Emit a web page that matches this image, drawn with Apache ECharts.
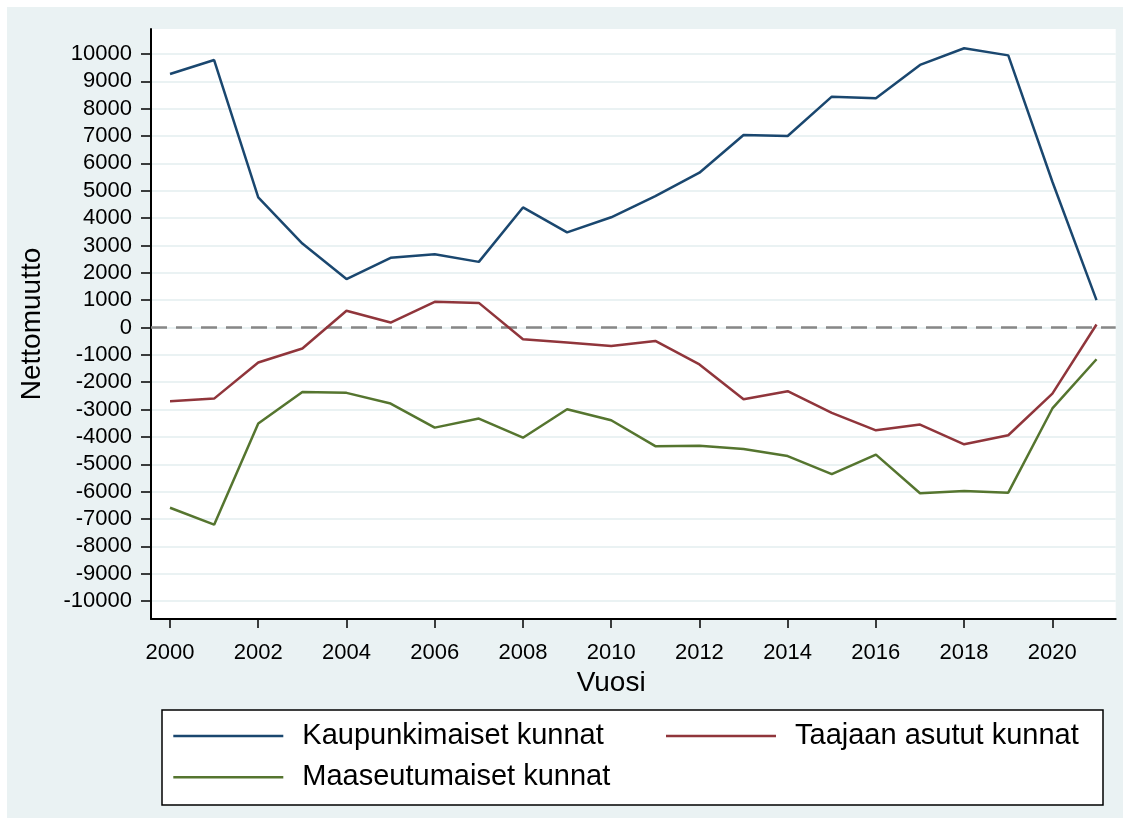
<!DOCTYPE html>
<html>
<head>
<meta charset="utf-8">
<script src="https://cdn.jsdelivr.net/npm/echarts@6/dist/echarts.min.js"></script>
<style>
  html, body { margin: 0; padding: 0; background: #ffffff; width: 1123px; height: 818px; overflow: hidden; }
  #chart { position: absolute; left: 7px; top: 7px; width: 1116px; height: 811px; background: #EAF2F3; }
</style>
</head>
<body>
<div id="chart"></div>
<script>
// ---- data ----
const years = [2000, 2001, 2002, 2003, 2004, 2005, 2006, 2007, 2008, 2009, 2010,
               2011, 2012, 2013, 2014, 2015, 2016, 2017, 2018, 2019, 2020, 2021];
const kaupunkimaiset = [9270, 9780, 4760, 3070, 1770, 2550, 2680, 2400, 4390, 3480, 4030,
                        4800, 5660, 7040, 7000, 8440, 8380, 9600, 10210, 9950, 5330, 1000];
const taajaan = [-2700, -2600, -1280, -770, 610, 180, 940, 900, -430, -550, -680,
                 -490, -1350, -2620, -2330, -3120, -3760, -3550, -4270, -3940, -2420, 110];
const maaseutumaiset = [-6590, -7210, -3510, -2360, -2390, -2780, -3660, -3330, -4030, -2990, -3390,
                        -4340, -4320, -4440, -4700, -5360, -4650, -6060, -5980, -6040, -2960, -1160];
const seriesNames = ['Kaupunkimaiset kunnat', 'Taajaan asutut kunnat', 'Maaseutumaiset kunnat'];
const yTickMin = -10000, yTickMax = 10000, yTickStep = 1000;
const xTickMin = 2000, xTickMax = 2020, xTickStep = 2;
const yTitle = 'Nettomuutto';
const xTitle = 'Vuosi';

const FONT = '"Liberation Sans", Arial, sans-serif';
const colors = ['#1A476F', '#90353B', '#55752F'];

function pairs(vals) { return years.map((y, i) => [y, vals[i]]); }

const chart = echarts.init(document.getElementById('chart'), null, { renderer: 'canvas' });

const legendCommon = {
  orient: 'vertical', top: 714, padding: 0, itemGap: 11.3,
  icon: 'rect', itemWidth: 110, itemHeight: 2.5,
  textStyle: { fontSize: 29, lineHeight: 30, color: '#000', fontFamily: FONT, padding: [0, 0, 0, 14] },
  selectedMode: false
};

const option = {
  animation: false,
  textStyle: { fontFamily: FONT },
  grid: [
    // A: data, y ticks, gridlines
    { left: 144, right: 7.3, top: 47, bottom: 217, show: false },
    // B: x ticks and labels
    { left: 163, right: 70.7, top: 22, bottom: 199, show: false },
    // C: plot area background and axis lines
    { left: 144, right: 7.3, top: 22, bottom: 199, show: true, backgroundColor: '#ffffff', borderWidth: 0, z: 0 }
  ],
  xAxis: [
    { type: 'value', gridIndex: 0, min: 1999.569, max: 2021.435,
      axisLine: { show: false }, axisTick: { show: false }, axisLabel: { show: false }, splitLine: { show: false } },
    { type: 'value', gridIndex: 1, min: xTickMin, max: xTickMax, interval: xTickStep,
      position: 'bottom',
      axisLine: { show: false, onZero: false },
      axisTick: { show: true, inside: false, length: 9, lineStyle: { color: '#000', width: 1.5 } },
      axisLabel: { show: true, margin: 23, fontSize: 22, color: '#000', fontFamily: FONT,
                   formatter: v => String(v) },
      splitLine: { show: false },
      name: xTitle, nameLocation: 'middle', nameGap: 45,
      nameTextStyle: { fontSize: 28, color: '#000', fontFamily: FONT } },
    { type: 'value', gridIndex: 2, min: 0, max: 1,
      axisLine: { show: true, onZero: false, lineStyle: { color: '#000', width: 2 } },
      axisTick: { show: false }, axisLabel: { show: false }, splitLine: { show: false } }
  ],
  yAxis: [
    { type: 'value', gridIndex: 0, min: yTickMin, max: yTickMax, interval: yTickStep,
      axisLine: { show: false },
      axisTick: { show: true, inside: false, length: 10, lineStyle: { color: '#000', width: 1.5 } },
      axisLabel: { show: true, margin: 19, fontSize: 22, color: '#000', fontFamily: FONT,
                   formatter: v => String(v) },
      splitLine: { show: true, lineStyle: { color: '#EAF2F3', width: 2 } } },
    { type: 'value', gridIndex: 1, min: 0, max: 1,
      axisLine: { show: false }, axisTick: { show: false }, axisLabel: { show: false }, splitLine: { show: false } },
    { type: 'value', gridIndex: 2, min: 0, max: 1,
      axisLine: { show: true, onZero: false, lineStyle: { color: '#000', width: 2 } },
      axisTick: { show: false }, axisLabel: { show: false }, splitLine: { show: false },
      name: yTitle, nameLocation: 'middle', nameGap: 105, nameRotate: 90,
      nameTextStyle: { fontSize: 28, color: '#000', fontFamily: FONT } }
  ],
  legend: [
    Object.assign({ data: [seriesNames[0], seriesNames[2]], left: 166.3 }, legendCommon),
    Object.assign({ data: [seriesNames[1]], left: 659 }, legendCommon)
  ],
  graphic: [
    { type: 'rect', z: 1, shape: { x: 155, y: 703, width: 941, height: 95 },
      style: { fill: '#ffffff', stroke: '#000000', lineWidth: 1.5 } }
  ],
  series: [
    { name: seriesNames[0], type: 'line', xAxisIndex: 0, yAxisIndex: 0, data: pairs(kaupunkimaiset),
      symbol: 'none', clip: false, lineStyle: { color: colors[0], width: 2.5 }, itemStyle: { color: colors[0] }, z: 5 },
    { name: seriesNames[1], type: 'line', xAxisIndex: 0, yAxisIndex: 0, data: pairs(taajaan),
      symbol: 'none', clip: false, lineStyle: { color: colors[1], width: 2.5 }, itemStyle: { color: colors[1] }, z: 5 },
    { name: seriesNames[2], type: 'line', xAxisIndex: 0, yAxisIndex: 0, data: pairs(maaseutumaiset),
      symbol: 'none', clip: false, lineStyle: { color: colors[2], width: 2.5 }, itemStyle: { color: colors[2] }, z: 5 },
    { name: 'zero', type: 'line', xAxisIndex: 0, yAxisIndex: 0, data: [], symbol: 'none', z: 3,
      markLine: { silent: true, symbol: ['none', 'none'], label: { show: false },
        lineStyle: { color: '#878787', width: 2.5, type: [16, 9] },
        data: [{ yAxis: 0 }] } }
  ]
};
chart.setOption(option);
</script>
</body>
</html>
